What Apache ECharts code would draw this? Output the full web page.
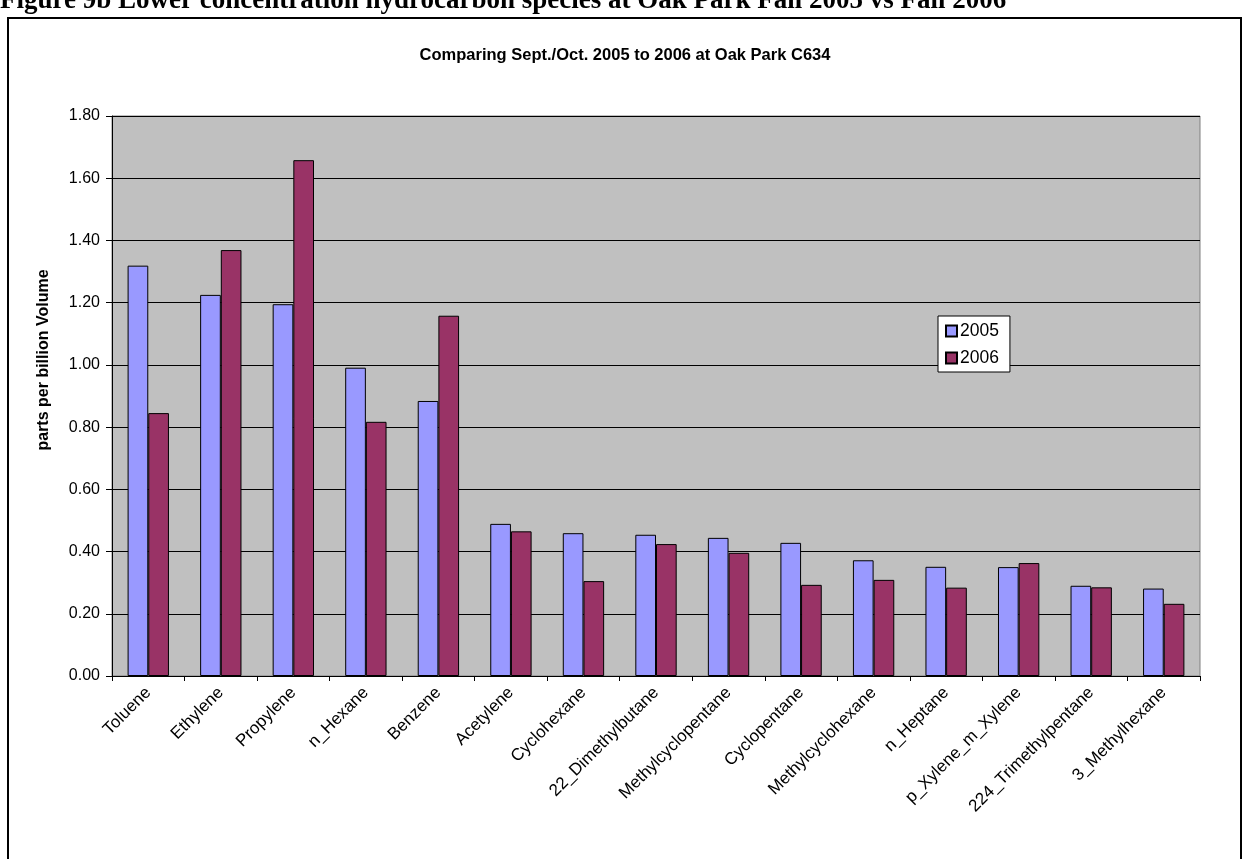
<!DOCTYPE html>
<html>
<head>
<meta charset="utf-8">
<script src="https://cdn.jsdelivr.net/npm/echarts@6/dist/echarts.min.js"></script>
<style>
html,body{margin:0;padding:0;background:#fff;}
#chart{width:1250px;height:859px;}
</style>
</head>
<body>
<div id="chart"></div>
<script>
const categories = ["Toluene","Ethylene","Propylene","n_Hexane","Benzene","Acetylene","Cyclohexane","22_Dimethylbutane","Methylcyclopentane","Cyclopentane","Methylcyclohexane","n_Heptane","p_Xylene_m_Xylene","224_Trimethylpentane","3_Methylhexane"];
const values2005 = [1.319,1.225,1.195,0.991,0.884,0.489,0.459,0.454,0.444,0.428,0.372,0.351,0.350,0.290,0.281];
const values2006 = [0.845,1.369,1.658,0.817,1.158,0.465,0.305,0.424,0.396,0.293,0.309,0.284,0.363,0.285,0.232];
const seriesNames = ["2005","2006"];
const yTicks = {min:0, max:1.8, interval:0.2};

const chart = echarts.init(document.getElementById('chart'), null, {renderer:'canvas'});
const F = 'Arial, "Liberation Sans", sans-serif';
chart.setOption({
  animation:false,
  backgroundColor:'#fff',
  title:{
    text:'Comparing Sept./Oct. 2005 to 2006 at Oak Park C634',
    left:'center', top:42,
    textStyle:{fontFamily:F, fontWeight:'bold', fontSize:16.5, color:'#000'}
  },
  legend:{
    orient:'vertical', left:938, top:316,
    backgroundColor:'#fff', borderColor:'#000', borderWidth:1,
    padding:[6,11,5,7], itemGap:9, itemWidth:11, itemHeight:11, icon:'rect',
    textStyle:{fontFamily:F, fontSize:17.5, color:'#000', padding:[0,0,0,-2]},
    data:seriesNames
  },
  grid:{left:112, right:50, top:116, bottom:183, show:true, backgroundColor:'#C0C0C0', borderColor:'#808080', borderWidth:1},
  xAxis:{
    type:'category', data:categories,
    axisLine:{lineStyle:{color:'#000', width:1}},
    axisTick:{show:true, length:5, lineStyle:{color:'#000'}},
    axisLabel:{interval:0, rotate:45, fontFamily:F, fontSize:17, color:'#000', margin:14}
  },
  yAxis:{
    type:'value', min:yTicks.min, max:yTicks.max, interval:yTicks.interval,
    axisLine:{show:true, lineStyle:{color:'#000', width:1}},
    axisTick:{show:true, length:6, lineStyle:{color:'#000'}},
    axisLabel:{fontFamily:F, fontSize:16, color:'#000', margin:12, formatter:v=>v.toFixed(2)},
    splitLine:{show:true, lineStyle:{color:'#000', width:1}}
  },
  series:[
    {name:seriesNames[0], type:'bar', data:values2005, barGap:'0%', barCategoryGap:'43%',
     itemStyle:{color:'#9999FF', borderColor:'#000', borderWidth:1}},
    {name:seriesNames[1], type:'bar', data:values2006, barGap:'0%', barCategoryGap:'43%',
     itemStyle:{color:'#993366', borderColor:'#000', borderWidth:1}}
  ],
  graphic:[
    {type:'rect', shape:{x:8, y:18, width:1233, height:860}, style:{fill:null, stroke:'#000', lineWidth:2}, silent:true, z:100},
    {type:'text', x:0, y:1, style:{text:'Figure 9b Lower concentration hydrocarbon species at Oak Park Fall 2005 vs Fall 2006', font:'bold 27px "Liberation Serif", "Times New Roman", serif', fill:'#000', verticalAlign:'middle'}},
    {type:'text', x:44, y:360, rotation:Math.PI/2, style:{text:'parts per billion Volume', font:'bold 16px Arial, "Liberation Sans", sans-serif', fill:'#000', align:'center', verticalAlign:'middle'}}
  ]
});
</script>
</body>
</html>
